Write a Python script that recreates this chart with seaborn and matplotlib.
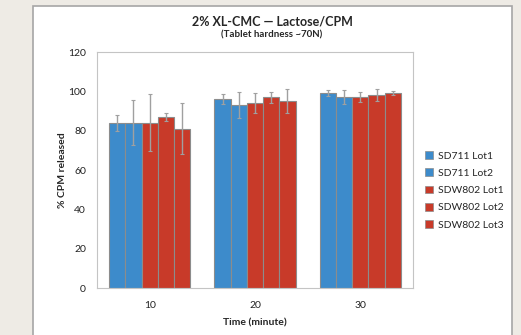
import matplotlib
matplotlib.use("Agg")
import matplotlib.pyplot as plt
from matplotlib.patches import Rectangle, Patch
import numpy as np
import pandas as pd
import seaborn as sns

# Dissolution data: % CPM released at each time point, per lot
times = ["10", "20", "30"]
lots = ["SD711 Lot1", "SD711 Lot2", "SDW802 Lot1", "SDW802 Lot2", "SDW802 Lot3"]
sd711_lot1 = [84, 96, 99]
sd711_lot2 = [84, 93, 97]
sdw802_lot1 = [84, 94, 97]
sdw802_lot2 = [87, 97, 98]
sdw802_lot3 = [81, 95, 99]
sd711_lot1_err = [4, 2.4, 1.5]
sd711_lot2_err = [11.5, 6.5, 3.5]
sdw802_lot1_err = [14.5, 5, 2.5]
sdw802_lot2_err = [2, 2.7, 3]
sdw802_lot3_err = [13, 6, 1]

values = [sd711_lot1, sd711_lot2, sdw802_lot1, sdw802_lot2, sdw802_lot3]
errors = [sd711_lot1_err, sd711_lot2_err, sdw802_lot1_err, sdw802_lot2_err, sdw802_lot3_err]

rows = []
for lot, vals, errs in zip(lots, values, errors):
    for t, v, e in zip(times, vals, errs):
        rows.append({"Time": t, "Lot": lot, "Released": v, "Err": e})
df = pd.DataFrame(rows)

BLUE = "#3d8bcb"
RED = "#c83a29"
palette = [BLUE, BLUE, RED, RED, RED]

sns.set_style("white")
plt.rcParams["font.family"] = ["Lato", "DejaVu Sans"]

fig = plt.figure(figsize=(5.21, 3.35), dpi=100)
fig.patch.set_facecolor("#eeebe5")
# white chart panel with a grey frame, kept behind the axes
fig.patches.append(Rectangle((33 / 521, -0.05), (512 - 33) / 521, 1.05 - 6 / 335,
                             transform=fig.transFigure, facecolor="white",
                             edgecolor="#a6a6a6", linewidth=1.2, zorder=-5))

ax = fig.add_axes([97 / 521, 47 / 335, (413 - 97) / 521, (288 - 52) / 335])
ax.set_zorder(2)
ax.set_facecolor("white")

sns.barplot(data=df, x="Time", y="Released", hue="Lot", order=times, hue_order=lots,
            palette=palette, errorbar=None, width=0.77, saturation=1,
            edgecolor="#8c8c8c", linewidth=0.8, ax=ax, legend=False)

# error bars centred on the bars seaborn drew
for container, lot in zip(ax.containers, lots):
    sub = df[df["Lot"] == lot].set_index("Time").loc[times]
    xs = [p.get_x() + p.get_width() / 2 for p in container.patches]
    ax.errorbar(xs, sub["Released"].values, yerr=sub["Err"].values, fmt="none",
                ecolor="#a0a0a0", elinewidth=1.0, capsize=1.6, capthick=0.8, zorder=3)

ax.set_ylim(0, 120)
ax.set_yticks(np.arange(0, 121, 20))
ax.set_xlim(-0.5, 2.5)
ax.set_xticks([-0.5, 0.5, 1.5, 2.5], minor=True)
ax.tick_params(axis="x", which="major", length=0, labelsize=7.5, pad=9.5, colors="#222222")
ax.tick_params(axis="x", which="minor", length=4, width=0.8, color="#bfbfbf", direction="out")
ax.tick_params(axis="y", length=4, width=0.8, color="#bfbfbf", direction="out",
               labelsize=7.5, pad=4, labelcolor="#222222")
for s in ax.spines.values():
    s.set_visible(True)
    s.set_color("#c4c4c4")
    s.set_linewidth(0.8)

ax.set_xlabel("Time (minute)", fontsize=7.5, fontweight="bold", va="center")
ax.set_ylabel("% CPM released", fontsize=7.5, fontweight="bold")
ax.xaxis.set_label_coords(0.5, -0.148)
ax.yaxis.set_label_coords(-0.095, 0.5)

fig.text(272 / 521, 1 - 21 / 335, "2% XL-CMC \u2014 Lactose/CPM", ha="center", va="center",
         fontsize=9, fontweight="bold")
fig.text(272 / 521, 1 - 35 / 335, "(Tablet hardness ~70N)", ha="center", va="center",
         fontsize=7, fontweight="bold")

handles = [Patch(facecolor=c, edgecolor="#8c8c8c", linewidth=0.5) for c in palette]
fig.legend(handles, lots, loc="upper left", bbox_to_anchor=(421 / 521, 1 - 147 / 335),
           frameon=False, fontsize=7.5, handlelength=0.75, handleheight=0.75,
           handletextpad=0.5, labelspacing=0.75, borderaxespad=0)

fig.savefig("out.png", dpi=100, facecolor=fig.get_facecolor())
